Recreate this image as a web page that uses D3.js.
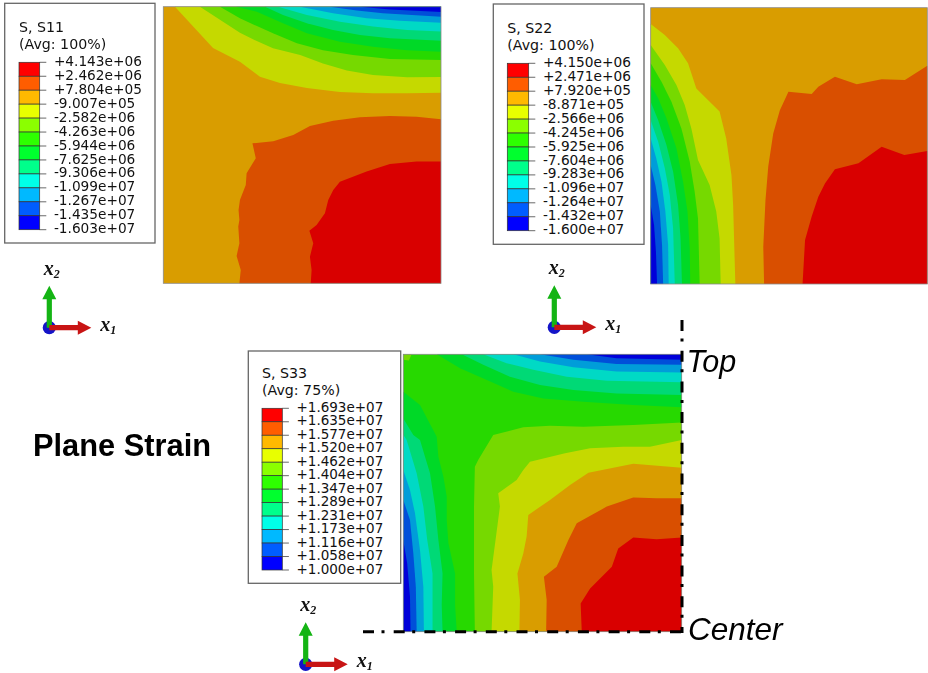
<!DOCTYPE html>
<html>
<head>
<meta charset="utf-8">
<style>
  html, body { margin: 0; padding: 0; background: #fff; }
  svg { display: block; filter: blur(0.45px); }
</style>
<script src="https://cdn.jsdelivr.net/npm/d3@7"></script>
</head>
<body>
<svg width="928" height="673"></svg>
<script>
// legend tick labels, top to bottom
var s11Labels = ["+4.143e+06", "+2.462e+06", "+7.804e+05", "-9.007e+05", "-2.582e+06", "-4.263e+06", "-5.944e+06", "-7.625e+06", "-9.306e+06", "-1.099e+07", "-1.267e+07", "-1.435e+07", "-1.603e+07"];
var s22Labels = ["+4.150e+06", "+2.471e+06", "+7.920e+05", "-8.871e+05", "-2.566e+06", "-4.245e+06", "-5.925e+06", "-7.604e+06", "-9.283e+06", "-1.096e+07", "-1.264e+07", "-1.432e+07", "-1.600e+07"];
var s33Labels = ["+1.693e+07", "+1.635e+07", "+1.577e+07", "+1.520e+07", "+1.462e+07", "+1.404e+07", "+1.347e+07", "+1.289e+07", "+1.231e+07", "+1.173e+07", "+1.116e+07", "+1.058e+07", "+1.000e+07"];

// band colours, index 0 is the highest stress band
var bandColors = ["#ff0000", "#ff5d00", "#ffb900", "#e8ff00", "#8bff00", "#2eff00", "#00ff2e", "#00ff8b", "#00ffe8", "#00b9ff", "#005dff", "#0000ff"];

// contour lines, as [x1, x2] in percent of the quarter section
var s11TopLevels = [3, 4, 5, 6, 7, 8, 9, 10, 11];
var s11TopLines = [
  [[4.2, 100], [17.9, 85.1], [27.6, 80.1], [34.8, 74.7], [42, 72.4], [51.7, 70.6], [63.6, 69.2], [75.5, 68.7], [87.8, 68.7], [100, 68.9]],
  [[13.2, 100], [27.6, 90.6], [32.3, 88.2], [39.5, 85], [49.3, 82.5], [57.5, 79.5], [66.1, 76.9], [75.5, 75.3], [87.8, 74.5], [100, 74.6]],
  [[20.4, 100], [27.6, 95.8], [33.7, 93], [39.5, 90.4], [48.1, 86.8], [57.5, 84.3], [68.3, 82.5], [81.6, 81.1], [100, 80.7]],
  [[26.2, 100], [33.7, 98.2], [43.1, 94], [51.7, 90.4], [63.6, 87.3], [75.5, 85.5], [87.8, 84.3], [100, 83.7]],
  [[36.6, 100], [43.1, 97], [51.7, 94], [61.1, 91.6], [70.8, 89.8], [81.6, 88.6], [100, 87.7]],
  [[41.3, 100], [51.7, 97], [63.6, 94.6], [75.5, 92.8], [87.8, 91.6], [100, 91]],
  [[49.2, 100], [61.1, 97.6], [73.3, 95.8], [85.2, 94.9], [100, 94.2]],
  [[60, 100], [69.7, 98.6], [79.1, 97.6], [100, 96.4]],
  [[70.8, 100], [81.6, 99], [100, 98.1]]
];
var s11CoreLevels = [1, 0];
var s11CoreLines = [
  [[100, 59.3], [91.2, 60.2], [81.6, 60.5], [70.8, 60], [61.2, 58.8], [52.8, 56.9], [46.8, 53.6], [39.6, 51.4], [32.1, 50.6], [33.3, 45.2], [30, 39.8], [29.7, 35.5], [27.6, 30.1], [27.1, 26.5], [27.4, 22.9], [27, 20.5], [27.4, 14.5], [26.4, 9.9], [27.9, 4.8], [27.4, 0]],
  [[100, 44], [91.2, 44], [81.6, 43.1], [73.2, 40.4], [63.6, 36.7], [61.2, 33.7], [59.4, 30.1], [58.2, 25.3], [55.2, 21.1], [52.6, 19], [54, 14.5], [52.8, 9.6], [53.4, 4.8], [53.1, 0]]
];

var s22LeftLevels = [3, 4, 5, 6, 7, 8, 9, 10, 11];
var s22LeftLines = [
  [[0, 94.1], [5.1, 90.1], [9.9, 85.3], [13.5, 79.9], [16.5, 70.8], [24.9, 62.4], [27.3, 52.7], [29.2, 39.4], [29.8, 28.6], [30.6, 0]],
  [[0, 86.5], [5.1, 79.3], [9.3, 72], [12.3, 64.8], [14.7, 56.3], [17.1, 44.9], [21.3, 35.8], [23.7, 26.2], [24.9, 16.5], [25.3, 0]],
  [[0, 79.9], [3.9, 73.2], [7.5, 66], [11.1, 56.3], [14.1, 44.3], [15.9, 33.4], [17.1, 23.8], [17.7, 0]],
  [[0, 72], [2.7, 67.2], [5.7, 60], [9.3, 49.1], [11.7, 37], [13.3, 26.2], [14.1, 12.9], [14.3, 0]],
  [[0, 66], [2.7, 59.3], [5.7, 50.3], [8.1, 40.7], [9.9, 28.6], [10.8, 16.5], [11.3, 0]],
  [[0, 59.3], [2.7, 51.5], [5.1, 41.9], [6.9, 32.2], [8.1, 20.1], [8.7, 0]],
  [[0, 52.7], [2, 45.5], [3.9, 37], [5.3, 26.2], [6.3, 14.1], [6.5, 0]],
  [[0, 43], [1.7, 35.8], [3.3, 26.2], [4.1, 14.1], [4.5, 0]],
  [[0, 28.6], [1.2, 21.4], [1.9, 11.7], [2.3, 0]]
];
var s22CoreLevels = [1, 0];
var s22CoreLines = [
  [[100, 79], [91.9, 73.8], [83.5, 74.1], [74.5, 72.3], [66.6, 75], [60.6, 71.4], [58.2, 68.8], [49.8, 69.6], [46.7, 62.9], [44.3, 54.5], [42.5, 42.5], [41.5, 30.4], [40.7, 13.5], [41, 0]],
  [[100, 48.1], [91.7, 46.7], [83.5, 49.7], [75.1, 43.7], [66.6, 41.5], [63, 36.4], [60.6, 31.6], [58.2, 24.4], [55.8, 15.9], [54.9, 0]]
];

var s33TopLevels = [6, 7, 8, 9, 10, 11];
var s33TopLines = [
  [[12, 100], [20.4, 95], [30, 90.7], [39.5, 86.5], [50.3, 84.1], [64.7, 82.9], [82.6, 81.7], [100, 80.9]],
  [[21, 100], [28.7, 96.2], [38.3, 91.9], [49.1, 88.9], [61.1, 87.1], [76.6, 85.9], [100, 85.3]],
  [[28.7, 100], [37.1, 96.8], [46.7, 94.4], [58.7, 91.9], [73.1, 90.5], [100, 89.9]],
  [[39.5, 100], [49.1, 97.4], [61.1, 95.3], [76.6, 93.8], [100, 93.4]],
  [[49.1, 100], [61.1, 98], [76.6, 96.5], [100, 96.2]],
  [[65.9, 100], [76.6, 98.6], [100, 98]]
];
var s33LeftLevels = [6, 7, 8, 9, 10, 11];
var s33LeftLines = [
  [[0, 86.5], [6, 81.7], [12, 70.3], [12.6, 63.1], [14.4, 55.9], [15.6, 48.7], [15.6, 40.3], [16.2, 31.9], [18.6, 21], [18.6, 9.6], [19.2, 0]],
  [[0, 76.9], [3.6, 70.9], [6, 69.1], [7.8, 63.1], [9.6, 57.1], [11.4, 45.1], [12.6, 33.1], [14.1, 21], [13.8, 9.6], [14.1, 0]],
  [[0, 71], [1.2, 69.1], [4.8, 57.1], [7.2, 45.1], [8.6, 33.1], [10.5, 21], [10.5, 0]],
  [[0, 58.3], [2.4, 51.1], [4.2, 42.7], [6, 29.4], [7.2, 16.2], [7.4, 0]],
  [[0, 47.5], [2.4, 40.3], [3.6, 28.2], [4.5, 16.2], [4.8, 0]],
  [[0, 33], [1.4, 24.6], [2.4, 12.6], [2.6, 0]]
];
var s33CoreLevels = [4, 3, 2, 1, 0];
var s33CoreLines = [
  [[100, 75.4], [82.6, 74.5], [64.7, 73.9], [52.7, 74.2], [43.1, 73.7], [32.3, 70.9], [26.9, 61.9], [25.7, 59.5], [25.4, 45.1], [25.4, 21], [25.7, 0]],
  [[100, 69.1], [88.6, 66.7], [79, 66.7], [67.1, 66.1], [58.1, 64.3], [45.5, 61.3], [43.1, 58.3], [40.7, 54.7], [34.1, 49.9], [34.7, 45.1], [33.3, 34.3], [31.7, 22.2], [32.3, 16.2], [31.7, 0]],
  [[100, 59.1], [82.6, 60.5], [66.5, 57.3], [59.9, 52.9], [52.7, 47.5], [44.9, 42.1], [44.3, 34.3], [43.1, 28.2], [41, 21], [41.9, 11.4], [41.7, 0]],
  [[100, 48.1], [91, 48.1], [82.6, 48.4], [73.1, 45.1], [62.3, 39.1], [59.3, 33.1], [55.1, 23.4], [50.5, 19.8], [51.5, 11.4], [51.3, 0]],
  [[100, 34], [91, 33.3], [82.6, 34], [77.2, 30], [74.9, 23.4], [67.1, 15.6], [63.7, 10.2], [64.1, 0]]
];
var s33SpotLevels = [4];
var s33SpotLines = [[[3, 100], [2, 97.8], [0, 98]]];

var svg = d3.select("svg");

function contourColor(level) {
  var c = d3.rgb(bandColors[level]);
  return d3.rgb(c.r * 0.85, c.g * 0.85, c.b * 0.85).formatHex();
}

function drawPanel(box, baseLevel, groups) {
  var x = d3.scaleLinear().domain([0, 100]).range([box.x0, box.x1]),
      y = d3.scaleLinear().domain([0, 100]).range([box.y1, box.y0]);

  var outline = d3.line()
      .x(function(d) { return x(d[0]); })
      .y(function(d) { return y(d[1]); })
      .curve(d3.curveLinearClosed);

  var g = svg.append("g");

  g.append("rect")
      .attr("x", x(0))
      .attr("y", y(100))
      .attr("width", x(100) - x(0))
      .attr("height", y(0) - y(100))
      .attr("fill", contourColor(baseLevel));

  groups.forEach(function(group) {
    g.append("g").selectAll("path")
      .data(group.lines)
      .join("path")
        .attr("d", function(d) { return outline(d.concat([group.corner])); })
        .attr("fill", function(d, i) { return contourColor(group.levels[i]); });
  });

  g.append("rect")
      .attr("x", x(0))
      .attr("y", y(100))
      .attr("width", x(100) - x(0))
      .attr("height", y(0) - y(100))
      .attr("fill", "none")
      .attr("stroke", "#8a8a8a")
      .attr("stroke-width", 0.8);
}

function drawLegend(box, title, avg, labels) {
  var g = svg.append("g");

  g.append("rect")
      .attr("x", box.x0)
      .attr("y", box.y0)
      .attr("width", box.x1 - box.x0)
      .attr("height", box.y1 - box.y0)
      .attr("fill", "#fff")
      .attr("stroke", "#666")
      .attr("stroke-width", 1.3);

  g.append("text")
      .attr("x", box.barX)
      .attr("y", box.titleY)
      .attr("font-family", "DejaVu Sans")
      .attr("font-size", 14.2)
      .attr("fill", "#111")
      .text(title);

  g.append("text")
      .attr("x", box.barX)
      .attr("y", box.titleY + 17.4)
      .attr("font-family", "DejaVu Sans")
      .attr("font-size", 14.2)
      .attr("fill", "#111")
      .text(avg);

  var scale = d3.scaleLinear().domain([0, bandColors.length]).range([box.barY0, box.barY1]);

  g.append("g").selectAll("rect")
    .data(bandColors)
    .join("rect")
      .attr("x", box.barX)
      .attr("y", function(d, i) { return scale(i); })
      .attr("width", box.barW)
      .attr("height", function(d, i) { return scale(i + 1) - scale(i); })
      .attr("fill", function(d) { return d; })
      .attr("stroke", "#333")
      .attr("stroke-width", 0.7);

  var axis = g.append("g")
      .attr("transform", "translate(" + (box.barX + box.barW) + ",0)")
      .call(d3.axisRight(scale)
          .tickValues(d3.range(bandColors.length + 1))
          .tickFormat(function(i) { return labels[i]; })
          .tickSize(6.6)
          .tickPadding(7.6)
          .offset(0));

  axis.select(".domain").remove();
  axis.attr("font-family", "DejaVu Sans").attr("font-size", box.fontSize);
  axis.selectAll("line").attr("stroke", "#444").attr("stroke-width", 0.8);
  axis.selectAll("text").attr("dy", "0.26em").attr("fill", "#111");
}

function drawTriad(o) {
  var g = svg.append("g");
  var len = 42, headLen = 13.5, headHalf = 7, shaft = 2.6;

  g.append("circle")
      .attr("cx", o.x)
      .attr("cy", o.y)
      .attr("r", 6.6)
      .attr("fill", "#1414c8");

  g.append("path")
      .attr("d", "M" + (o.x - shaft) + "," + o.y + "V" + (o.y - len + headLen) + "H" + (o.x - headHalf) + "L" + o.x + "," + (o.y - len) + "L" + (o.x + headHalf) + "," + (o.y - len + headLen) + "H" + (o.x + shaft) + "V" + o.y + "Z")
      .attr("fill", "#14b414");

  g.append("path")
      .attr("d", "M" + o.x + "," + (o.y - shaft) + "H" + (o.x + len - headLen) + "V" + (o.y - headHalf) + "L" + (o.x + len) + "," + o.y + "L" + (o.x + len - headLen) + "," + (o.y + headHalf) + "V" + (o.y + shaft) + "H" + o.x + "Z")
      .attr("fill", "#c81414");

  axisName(g, o.x - 5.5, o.y - 53, "x", "2");
  axisName(g, o.x + 51, o.y + 3, "x", "1");
}

function axisName(g, x, y, letter, sub) {
  var t = g.append("text")
      .attr("x", x)
      .attr("y", y)
      .attr("font-family", "Liberation Serif")
      .attr("font-style", "italic")
      .attr("font-weight", "bold")
      .attr("font-size", 20)
      .attr("fill", "#111")
      .text(letter);
  t.append("tspan")
      .attr("dy", 3)
      .attr("font-size", 12)
      .text(sub);
}

function drawLabel(x, y, text, size, style, weight) {
  svg.append("text")
      .attr("x", x)
      .attr("y", y)
      .attr("font-family", "Liberation Sans")
      .attr("font-size", size)
      .attr("font-style", style)
      .attr("font-weight", weight)
      .attr("fill", "#000")
      .text(text);
}

drawPanel({x0: 163.3, x1: 441, y0: 6.7, y1: 283.3}, 2, [
  {lines: s11TopLines, levels: s11TopLevels, corner: [100, 100]},
  {lines: s11CoreLines, levels: s11CoreLevels, corner: [100, 0]}
]);
drawPanel({x0: 650.7, x1: 927.3, y0: 7.7, y1: 284}, 2, [
  {lines: s22LeftLines, levels: s22LeftLevels, corner: [0, 0]},
  {lines: s22CoreLines, levels: s22CoreLevels, corner: [100, 0]}
]);
drawPanel({x0: 403.3, x1: 681.7, y0: 354.3, y1: 631.7}, 5, [
  {lines: s33CoreLines, levels: s33CoreLevels, corner: [100, 0]},
  {lines: s33TopLines, levels: s33TopLevels, corner: [100, 100]},
  {lines: s33LeftLines, levels: s33LeftLevels, corner: [0, 0]},
  {lines: s33SpotLines, levels: s33SpotLevels, corner: [0, 100]}
]);

drawLegend({x0: 4.7, x1: 155, y0: 3.3, y1: 243, barX: 19, barW: 20.7, barY0: 62.3, barY1: 229.7, titleY: 32, fontSize: 13.7}, "S, S11", "(Avg: 100%)", s11Labels);
drawLegend({x0: 493.3, x1: 644, y0: 4, y1: 244.3, barX: 507.3, barW: 21.4, barY0: 63.3, barY1: 230.7, titleY: 32.6, fontSize: 13.7}, "S, S22", "(Avg: 100%)", s22Labels);
drawLegend({x0: 248.3, x1: 400.7, y0: 351, y1: 583.3, barX: 262, barW: 20.3, barY0: 408.3, barY1: 570, titleY: 377.7, fontSize: 13.5}, "S, S33", "(Avg: 75%)", s33Labels);

drawTriad({x: 49.3, y: 327.7});
drawTriad({x: 554.3, y: 327.3});
drawTriad({x: 305.7, y: 664.3});

// symmetry lines
svg.append("path")
    .attr("d", d3.line()([[682, 320], [682, 633]]))
    .attr("fill", "none")
    .attr("stroke", "#000")
    .attr("stroke-width", 3)
    .attr("stroke-dasharray", "11 7.5 3 9.2");

svg.append("path")
    .attr("d", d3.line()([[363, 631.7], [682, 631.7]]))
    .attr("fill", "none")
    .attr("stroke", "#000")
    .attr("stroke-width", 3)
    .attr("stroke-dasharray", "11 7.5 3 9.2");

drawLabel(33, 456, "Plane Strain", 30.8, "normal", "bold");
drawLabel(686.5, 371.7, "Top", 30.5, "italic", "normal");
drawLabel(688, 640, "Center", 31.5, "italic", "normal");
</script>
</body>
</html>
